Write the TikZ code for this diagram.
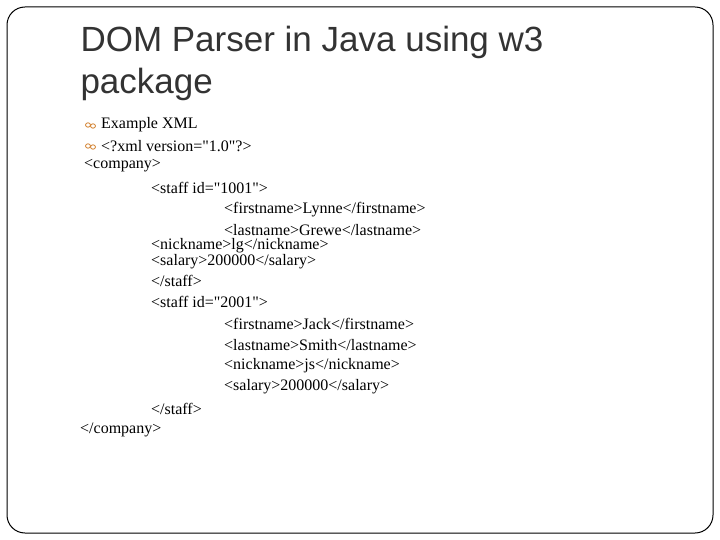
\documentclass[tikz,border=0pt]{standalone}
\usepackage{fontspec}
\setmainfont{Liberation Serif}[Ligatures=TeXOff]
\newfontfamily\titlefont{Liberation Sans}
\newcommand{\qq}{\symbol{34}}
\begin{document}
\begin{tikzpicture}[x=1pt,y=-1pt,
  ttl/.style={anchor=west,font=\titlefont\fontsize{35}{40}\selectfont,text=black!80},
  ln/.style={anchor=west,font=\fontsize{16}{18}\selectfont,inner sep=0pt},
  bul/.style={draw=brown!70!orange,line width=0.8pt}]
\useasboundingbox (0,0) rectangle (720,540);
\draw[line width=1pt,rounded corners=18pt] (7,7) rectangle (713,533);
\node[ttl] (t1) at (77,42) {DOM Parser in Java using w3};
\node[ttl] (t2) at (77,84) {package};
\foreach \yy in {125,146}{
  \draw[bul] (88,\yy) ellipse (2.5 and 2.2);
  \draw[bul] (93,\yy+1) ellipse (2.5 and 2.2);
}
\node[ln] (l1) at (101,125) {Example XML};
\node[ln] (l2) at (101,146) {<?xml version=\qq1.0\qq?>};
\node[ln] (l3) at (84,166) {<company>};
\node[ln] (l4) at (151,188) {<staff id=\qq1001\qq>};
\node[ln] (l5) at (224,210) {<firstname>Lynne</firstname>};
\node[ln] (l6) at (224,230) {<lastname>Grewe</lastname>};
\node[ln] (l7) at (151,246) {<nickname>lg</nickname>};
\node[ln] (l8) at (151,262) {<salary>200000</salary>};
\node[ln] (l9) at (151,281) {</staff>};
\node[ln] (l10) at (151,302) {<staff id=\qq2001\qq>};
\node[ln] (l11) at (224,324) {<firstname>Jack</firstname>};
\node[ln] (l12) at (224,345) {<lastname>Smith</lastname>};
\node[ln] (l13) at (224,366) {<nickname>js</nickname>};
\node[ln] (l14) at (224,387) {<salary>200000</salary>};
\node[ln] (l15) at (151,409) {</staff>};
\node[ln] (l16) at (80,430) {</company>};
\end{tikzpicture}
\end{document}
